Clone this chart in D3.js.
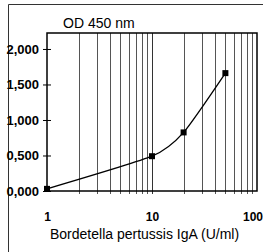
<!DOCTYPE html>
<html>
<head>
<meta charset="utf-8">
<script src="https://cdn.jsdelivr.net/npm/d3@7"></script>
<style>
  body { margin: 0; background: #fff; }
  text { font-family: "Liberation Sans", Arial, sans-serif; fill: #000; }
</style>
</head>
<body>
<script>
// standard curve values
var concentrations = [1, 10, 20, 50];
var odValues = [0.03, 0.49, 0.825, 1.66];
var yTicks = [0, 0.5, 1, 1.5, 2];
var xTicks = [1, 10, 100];
var gridValues = [2, 3, 4, 5, 6, 7, 8, 9, 20, 30, 40, 50, 60, 70, 80, 90];

var W = 263, H = 252;
var plot = {left: 47, right: 257, top: 33, bottom: 191};
var narrow = "'Liberation Sans Narrow', 'Liberation Sans', Arial, sans-serif";

var svg = d3.select("body").append("svg")
  .attr("width", W)
  .attr("height", H);

// outer frame (top and left edges only are visible)
svg.append("path")
  .attr("d", "M8.5," + H + "V4.5H" + W)
  .attr("fill", "none")
  .attr("stroke", "#333")
  .attr("stroke-width", 1);

var x = d3.scaleLog().domain([1, 100]).range([plot.left, plot.right]);
var y = d3.scaleLinear().domain([0, 2.225]).range([plot.bottom, plot.top]);

// vertical grid lines
svg.append("g").selectAll("line")
  .data(gridValues)
  .join("line")
  .attr("x1", function(d) { return Math.round(x(d)) + 0.5; })
  .attr("x2", function(d) { return Math.round(x(d)) + 0.5; })
  .attr("y1", plot.top)
  .attr("y2", plot.bottom + 3)
  .attr("stroke", "#555")
  .attr("stroke-width", 1);

// x = 10 line
svg.append("line")
  .attr("x1", Math.round(x(10)) + 0.5)
  .attr("x2", Math.round(x(10)) + 0.5)
  .attr("y1", plot.top)
  .attr("y2", plot.bottom + 3)
  .attr("stroke", "#333");

// plot border
svg.append("rect")
  .attr("x", plot.left)
  .attr("y", plot.top)
  .attr("width", plot.right - plot.left)
  .attr("height", plot.bottom - plot.top)
  .attr("fill", "none")
  .attr("stroke", "#000")
  .attr("stroke-width", 1.5);

// y axis with ticks crossing the axis line
var yAxis = d3.axisLeft(y)
  .tickValues(yTicks)
  .tickSize(4)
  .tickPadding(5)
  .tickFormat(function(d) { return d3.format(".3f")(d).replace(".", ","); });

var gy = svg.append("g")
  .attr("transform", "translate(" + plot.left + ",0)")
  .call(yAxis);
gy.select(".domain").remove();
gy.selectAll(".tick line").attr("x2", 4).attr("x1", -4).attr("stroke", "#000");
gy.selectAll("text")
  .attr("font-size", 13)
  .attr("font-weight", "bold")
  .attr("x", -8)
  .style("font-family", narrow);

// x axis labels
var xAxis = d3.axisBottom(x)
  .tickValues(xTicks)
  .tickSize(0)
  .tickPadding(21)
  .tickFormat(d3.format("d"));

var gx = svg.append("g")
  .attr("transform", "translate(0," + plot.bottom + ")")
  .call(xAxis);
gx.select(".domain").remove();
gx.selectAll("text")
  .attr("font-size", 12)
  .attr("font-weight", "bold")
  .style("font-family", narrow);
// last label is clipped at the right edge in the original; keep it inside
gx.selectAll(".tick").filter(function(d) { return d === 100; }).select("text")
  .attr("text-anchor", "end")
  .attr("x", W - plot.right - 0.5);

// smoothed curve through the standards
var line = d3.line()
  .x(function(d, i) { return x(concentrations[i]); })
  .y(function(d) { return y(d); })
  .curve(d3.curveCardinal.tension(0.4));

svg.append("path")
  .datum(odValues)
  .attr("d", line)
  .attr("fill", "none")
  .attr("stroke", "#000")
  .attr("stroke-width", 1.3);

// markers
svg.append("g").selectAll("rect")
  .data(odValues)
  .join("rect")
  .attr("x", function(d, i) { return x(concentrations[i]) - 3; })
  .attr("y", function(d) { return y(d) - 3; })
  .attr("width", 6)
  .attr("height", 6)
  .attr("fill", "#000");

// title
svg.append("text")
  .attr("x", 63)
  .attr("y", 28)
  .attr("font-size", 14)
  .text("OD 450 nm");

// x axis title
svg.append("text")
  .attr("x", 50)
  .attr("y", 239)
  .attr("font-size", 14)
  .text("Bordetella pertussis IgA (U/ml)");
</script>
</body>
</html>
